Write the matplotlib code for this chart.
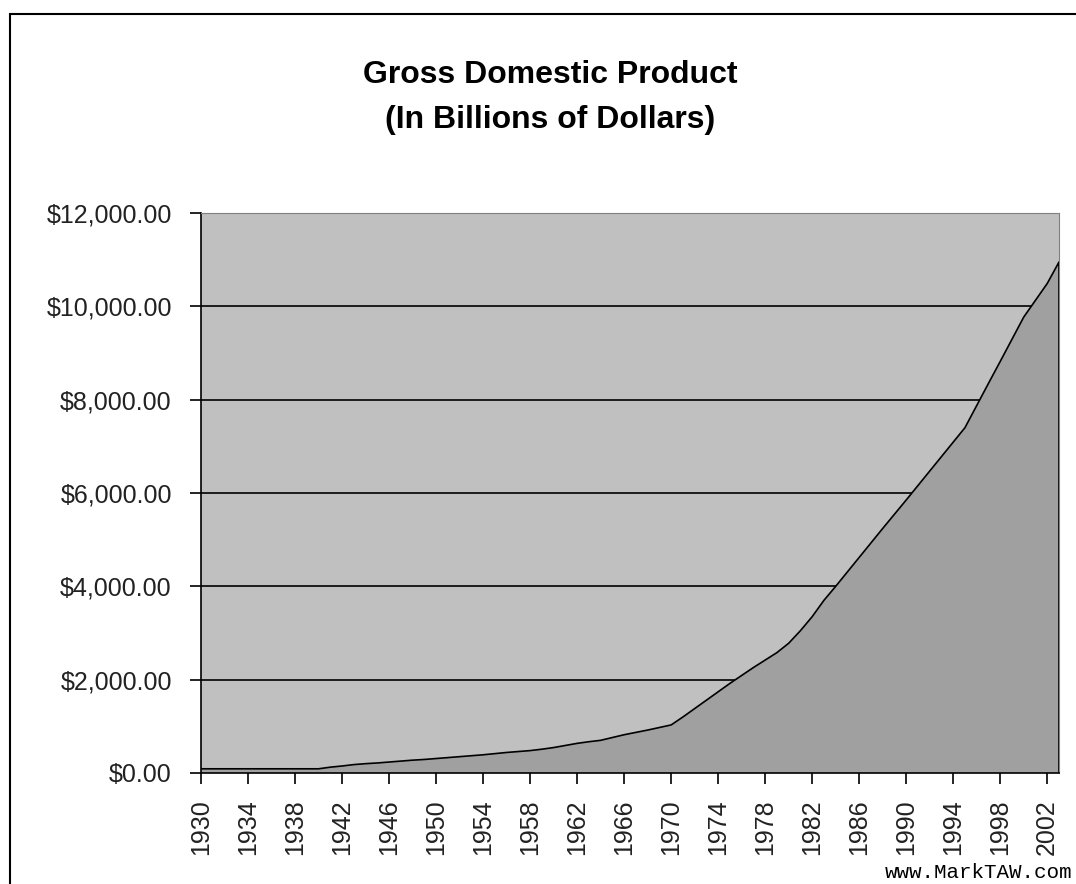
import numpy as np
import matplotlib
matplotlib.use("Agg")
import matplotlib.pyplot as plt
from matplotlib.patches import Rectangle
from matplotlib.ticker import FuncFormatter

# GDP in billions of dollars
years = np.arange(1930, 2004)
gdp = [90, 90, 90, 90, 90, 90, 90, 90, 90, 90,
       90, 125, 150, 180, 200, 215, 235, 255, 275, 290,
       310, 330, 350, 370, 390, 415, 440, 460, 480, 510,
       545, 590, 635, 670, 700, 760, 820, 870, 920, 975,
       1030, 1200, 1380, 1560, 1740, 1920, 2090, 2260, 2420, 2580,
       2780, 3050, 3350, 3700, 4000, 4310, 4620, 4930, 5240, 5545,
       5850, 6160, 6470, 6780, 7090, 7400, 7875, 8350, 8820, 9295,
       9770, 10130, 10490, 10950]
year_ticks = years[::4]
y_ticks = [0, 2000, 4000, 6000, 8000, 10000, 12000]

plt.rcParams['font.family'] = ['Liberation Sans', 'DejaVu Sans']

fig = plt.figure(figsize=(10.76, 8.84), dpi=100)
ax = fig.add_axes([201/1076, 1-773/884, (1059-201)/1076, (773-213)/884])
ax.set_facecolor('#C0C0C0')

ax.fill_between(years, gdp, 0, facecolor='#A0A0A0', edgecolor='none', zorder=2)
ax.plot(np.append(years, years[-1]), np.append(gdp, 0), color='black', lw=1.2, zorder=3)

for v in y_ticks[1:-1]:
    ax.axhline(v, color='black', lw=1.2, zorder=1)

ax.set_xlim(1930, 2003)
ax.set_ylim(0, 12000)
ax.set_xticks(year_ticks)
ax.set_xticklabels([str(y) for y in year_ticks], rotation=90, fontsize=18)
ax.set_yticks(y_ticks)
ax.yaxis.set_major_formatter(FuncFormatter(lambda v, p: '${:,.2f}'.format(v)))
ax.tick_params(axis='y', labelsize=18, length=8, width=1.2, pad=13, colors='black',
               labelcolor='#222222')
ax.tick_params(axis='x', length=8, width=1.2, pad=11, colors='black',
               labelcolor='#222222')

ax.spines['left'].set_linewidth(1.2)
ax.spines['bottom'].set_linewidth(1.2)
ax.spines['top'].set_color('#808080')
ax.spines['right'].set_color('#808080')
ax.spines['bottom'].set_zorder(4)

fig.text(550/1076, 1-75/884, 'Gross Domestic Product', ha='center', va='center',
         fontsize=23, fontweight='bold')
fig.text(550/1076, 1-120/884, '(In Billions of Dollars)', ha='center', va='center',
         fontsize=23, fontweight='bold')
fig.text(1072/1076, 1-873/884, 'www.MarkTAW.com', ha='right', va='center',
         fontsize=15, family=['Liberation Mono', 'DejaVu Sans Mono'])

# chart area frame (right and bottom edges fall outside the picture)
fig.add_artist(Rectangle((9.5/1076, -0.1), 2, 1 - 14/884 + 0.1,
                         transform=fig.transFigure, fill=False, lw=1.5,
                         edgecolor='black', clip_on=False))

fig.savefig('out.png', dpi=100)
